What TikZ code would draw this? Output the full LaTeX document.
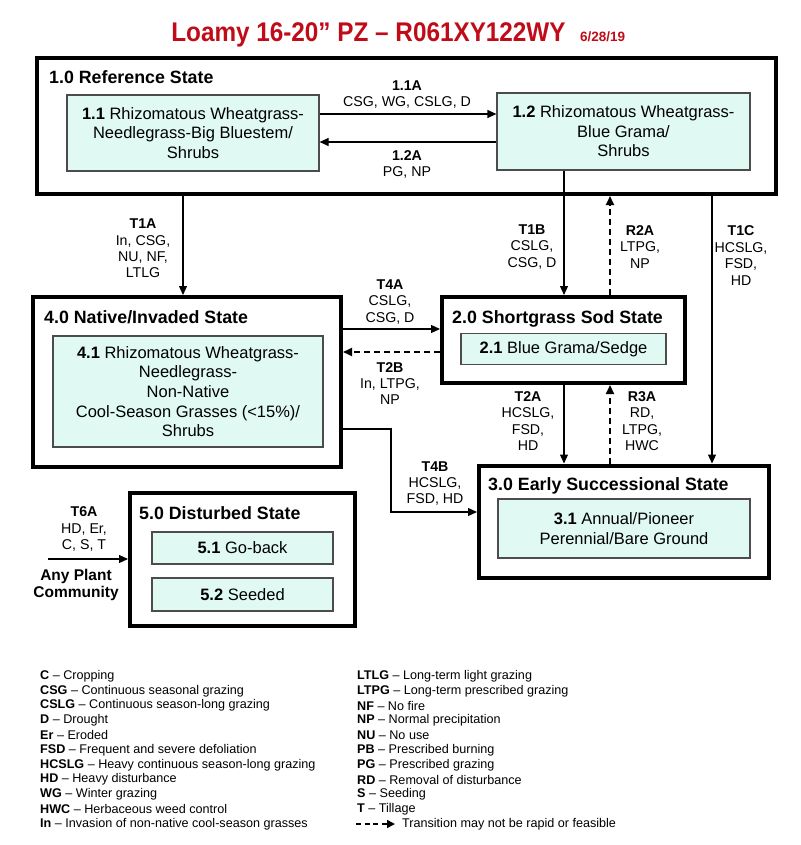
\documentclass[tikz,border=0pt]{standalone}
\usepackage{fontspec}
\setmainfont{Liberation Sans}
\newfontfamily\titlefam[FakeStretch=0.9]{Liberation Sans}
\usetikzlibrary{arrows.meta}
\definecolor{boxfill}{RGB}{224,250,243}
\definecolor{titlered}{RGB}{192,12,24}
\newcommand\bodyfnt{\fontsize{16.5}{19.6}\selectfont}
\newcommand\lblfnt{\fontsize{14.2}{16.4}\selectfont}
\newcommand\sttfnt{\fontsize{17.8}{20}\selectfont\bfseries}
\newcommand\legfnt{\fontsize{12.6}{14.8}\selectfont}
\begin{document}
\begin{tikzpicture}[x=1pt,y=-1pt,
  state/.style={draw, line width=4pt, inner sep=0pt},
  comm/.style={draw=black!70, line width=1.2pt, fill=boxfill, align=center, inner sep=0pt, font=\bodyfnt},
  stitle/.style={anchor=base west, inner sep=0pt, font=\sttfnt},
  lbl/.style={align=center, inner sep=0pt, font=\lblfnt},
  leg/.style={anchor=west, inner sep=0pt, font=\legfnt},
  arr/.style={line width=1.2pt, -{Triangle[length=9pt,width=8pt]}},
  dsh/.style={line width=1.8pt, dash pattern=on 6pt off 4pt, -{Triangle[length=9pt,width=8pt]}}]
\useasboundingbox (0,0) rectangle (800,845);
% title
\node[anchor=base, inner sep=0pt, text=titlered, font=\titlefam\fontsize{27}{30}\selectfont\bfseries] (title) at (368.5,42) {Loamy 16-20” PZ – R061XY122WY};
\node[anchor=base west, inner sep=0pt, text=titlered, font=\fontsize{13.5}{16}\selectfont\bfseries] (date) at (580,42) {6/28/19};
% state boxes
\node[state, minimum width=739, minimum height=136] (s10) at (406.5,126) {};
\node[state, minimum width=308, minimum height=170] (s40) at (187,382) {};
\node[state, minimum width=243, minimum height=86] (s20) at (563.5,340) {};
\node[state, minimum width=290, minimum height=112] (s30) at (624,521.5) {};
\node[state, minimum width=225, minimum height=133] (s50) at (242.5,559.5) {};
% state titles
\node[stitle] (t10) at (49,83.6) {1.0 Reference State};
\node[stitle] (t40) at (44,323.6) {4.0 Native/Invaded State};
\node[stitle] (t20) at (452,323.6) {2.0 Shortgrass Sod State};
\node[stitle] (t30) at (488,490.6) {3.0 Early Successional State};
\node[stitle] (t50) at (139,519.6) {5.0 Disturbed State};
% community boxes
\node[comm, minimum width=252, minimum height=76] (b11) at (193,133) {\textbf{1.1} Rhizomatous Wheatgrass-\\Needlegrass-Big Bluestem/\\Shrubs};
\node[comm, minimum width=253, minimum height=77] (b12) at (623.5,131.5) {\textbf{1.2} Rhizomatous Wheatgrass-\\Blue Grama/\\Shrubs};
\node[comm, minimum width=270, minimum height=111] (b41) at (188,391.5) {\textbf{4.1} Rhizomatous Wheatgrass-\\Needlegrass-\\Non-Native\\Cool-Season Grasses (<15\%)/\\Shrubs};
\node[comm, minimum width=205, minimum height=31] (b21) at (563.5,349) {\textbf{2.1} Blue Grama/Sedge};
\node[comm, minimum width=252, minimum height=59] (b31) at (624,528.5) {\textbf{3.1} Annual/Pioneer\\Perennial/Bare Ground};
\node[comm, minimum width=181, minimum height=32] (b51) at (242.5,548) {\textbf{5.1} Go-back};
\node[comm, minimum width=181, minimum height=33] (b52) at (242.5,594.5) {\textbf{5.2} Seeded};
% helper coordinates
\coordinate (y11a) at (0,114);
\coordinate (y12a) at (0,142);
\coordinate (xT1A) at (183,0);
\coordinate (xT1B) at (564,0);
\coordinate (xR2A) at (610,0);
\coordinate (xT1C) at (712,0);
\coordinate (yT4A) at (0,329);
\coordinate (yT2B) at (0,352);
\coordinate (t4b) at (391,429);
\coordinate (t4bb) at (391,512);
\coordinate (t6a) at (48,559);
% connectors
\draw[arr] (b11.east |- y11a) -- (b12.west |- y11a);
\draw[arr] (b12.west |- y12a) -- (b11.east |- y12a);
\draw[arr] (xT1A |- s10.south) -- (xT1A |- s40.north);
\draw[arr] (xT1B |- b12.south) -- (xT1B |- s20.north);
\draw[dsh] (xR2A |- s20.north) -- (xR2A |- s10.south);
\draw[arr] (xT1C |- s10.south) -- (xT1C |- s30.north);
\draw[arr] (s40.east |- yT4A) -- (s20.west |- yT4A);
\draw[dsh] (s20.west |- yT2B) -- (s40.east |- yT2B);
\draw[arr] (xT1B |- s20.south) -- (xT1B |- s30.north);
\draw[dsh] (xR2A |- s30.north) -- (xR2A |- s20.south);
\draw[arr] (s40.east |- t4b) -- (t4b) -- (t4bb) -- (s30.west |- t4bb);
\draw[arr] (t6a) -- (s50.west |- t6a);
% labels
\node[lbl] (l11a) at (407,94.5) {\textbf{1.1A}\\CSG, WG, CSLG, D};
\node[lbl] (l12a) at (407,164.5) {\textbf{1.2A}\\PG, NP};
\node[lbl] (lT1A) at (143,248.5) {\textbf{T1A}\\In, CSG,\\NU, NF,\\LTLG};
\node[lbl] (lT1B) at (532,247) {\textbf{T1B}\\CSLG,\\CSG, D};
\node[lbl] (lR2A) at (640,247) {\textbf{R2A}\\LTPG,\\NP};
\node[lbl] (lT1C) at (741,255.5) {\textbf{T1C}\\HCSLG,\\FSD,\\HD};
\node[lbl] (lT4A) at (390,302) {\textbf{T4A}\\CSLG,\\CSG, D};
\node[lbl] (lT2B) at (390,383.5) {\textbf{T2B}\\In, LTPG,\\NP};
\node[lbl] (lT2A) at (528,421) {\textbf{T2A}\\HCSLG,\\FSD,\\HD};
\node[lbl] (lR3A) at (642,421) {\textbf{R3A}\\RD,\\LTPG,\\HWC};
\node[lbl] (lT4B) at (435,483.5) {\textbf{T4B}\\HCSLG,\\FSD, HD};
\node[lbl] (lT6A) at (84,529) {\textbf{T6A}\\HD, Er,\\C, S, T};
\node[align=center, inner sep=0pt, font=\fontsize{15.5}{17}\selectfont\bfseries] (any) at (76,584.5) {Any Plant\\Community};
% legend
\foreach \i/\a/\b in {0/C/Cropping, 1/CSG/Continuous seasonal grazing, 2/CSLG/Continuous season-long grazing, 3/D/Drought, 4/Er/Eroded, 5/FSD/Frequent and severe defoliation, 6/HCSLG/Heavy continuous season-long grazing, 7/HD/Heavy disturbance, 8/WG/Winter grazing, 9/HWC/Herbaceous weed control, 10/In/Invasion of non-native cool-season grasses}
  \node[leg] (lgL\i) at (40,{676+14.8*\i}) {\textbf{\a} – \b};
\foreach \i/\a/\b in {0/LTLG/Long-term light grazing, 1/LTPG/Long-term prescribed grazing, 2/NF/No fire, 3/NP/Normal precipitation, 4/NU/No use, 5/PB/Prescribed burning, 6/PG/Prescribed grazing, 7/RD/Removal of disturbance, 8/S/Seeding, 9/T/Tillage}
  \node[leg] (lgR\i) at (357,{676+14.8*\i}) {\textbf{\a} – \b};
\coordinate (lgd1) at (356,824);
\coordinate (lgd2) at (395,824);
\draw[line width=1.6pt, dash pattern=on 5pt off 3.5pt, -{Triangle[length=8pt,width=8pt]}] (lgd1) -- (lgd2);
\node[leg] (lgR10) at (402,824) {Transition may not be rapid or feasible};
\end{tikzpicture}
\end{document}
